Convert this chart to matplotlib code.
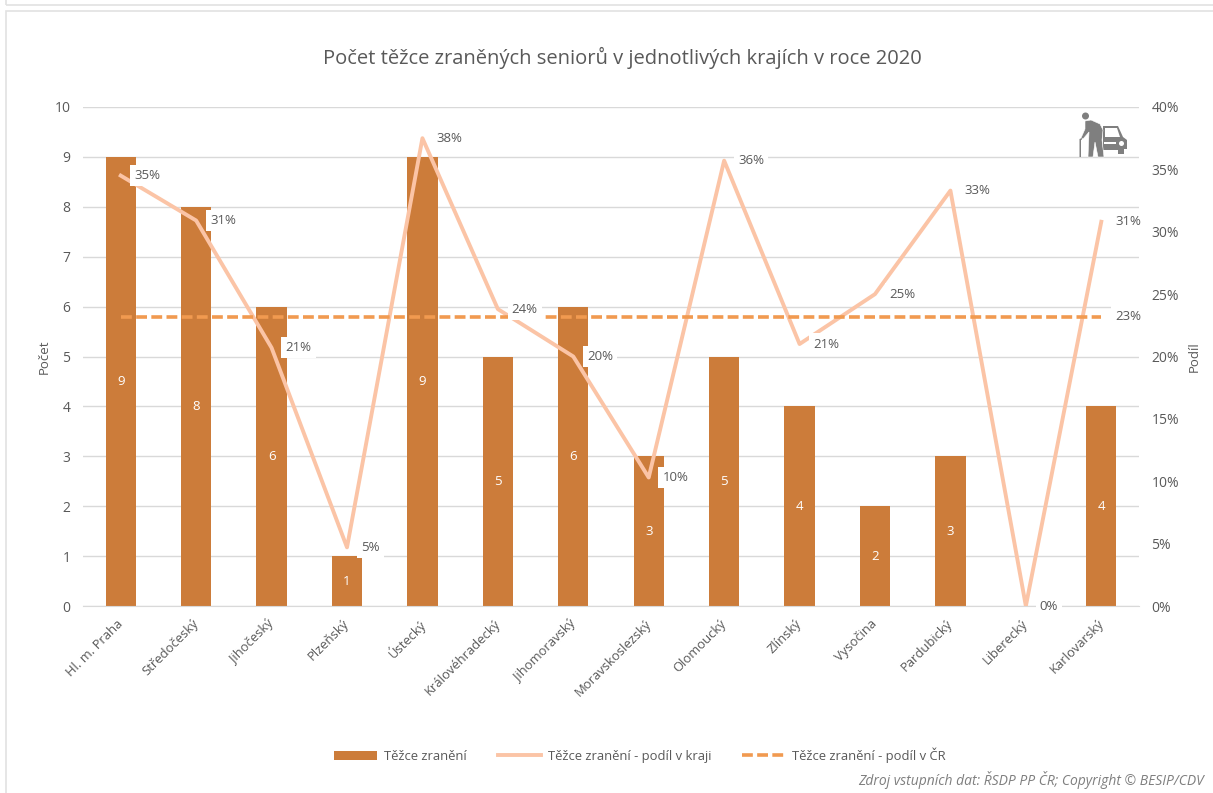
import matplotlib
matplotlib.use("Agg")
import matplotlib.pyplot as plt
from matplotlib.patches import Rectangle, Polygon, Circle
from matplotlib.transforms import ScaledTranslation

plt.rcParams['font.family'] = ['Open Sans', 'DejaVu Sans']

kraje = ['Hl. m. Praha', 'Středočeský', 'Jihočeský', 'Plzeňský', 'Ústecký',
         'Královéhradecký', 'Jihomoravský', 'Moravskoslezský', 'Olomoucký',
         'Zlínský', 'Vysočina', 'Pardubický', 'Liberecký', 'Karlovarský']
pocet = [9, 8, 6, 1, 9, 5, 6, 3, 5, 4, 2, 3, 0, 4]
podil = [34.5, 30.9, 20.7, 4.7, 37.5, 23.8, 20.0, 10.3, 35.7, 21.0, 25.0, 33.3, 0.0, 30.8]
podil_txt = ['35%', '31%', '21%', '5%', '38%', '24%', '20%', '10%', '36%', '21%', '25%', '33%', '0%', '31%']
podil_cr = [23.2] * 14
y_ticks = list(range(0, 11))
y2_ticks = [0, 5, 10, 15, 20, 25, 30, 35, 40]

W, H = 1213, 793
BAR = '#CC7C3A'
LINE = '#FBC4A6'
DASH = '#F19A50'
GRID = '#D9D9D9'
TXT = '#595959'

fig = plt.figure(figsize=(W/100, H/100), dpi=100)

# frames of the screenshot
fig.add_artist(Rectangle((6/W, -0.01), 1.1, 1-11/H+0.01, transform=fig.transFigure,
                         fill=False, ec='#E2E2E2', lw=1.2))
fig.add_artist(Rectangle((6/W, 1-5/H), 1.1, 0.1, transform=fig.transFigure,
                         fill=False, ec='#E2E2E2', lw=1.2))

ax = fig.add_axes([83/W, 1-606/H, (1139-83)/W, (606-107)/H])
x = list(range(len(kraje)))

ax.bar(x, pocet, width=0.4, color=BAR, label='Těžce zranění', zorder=2)
ax.set_xlim(-0.5, 13.5)
ax.set_ylim(0, 10)
ax.set_yticks(y_ticks)
ax.grid(axis='y', color=GRID, lw=1, zorder=0)
ax.set_axisbelow(True)
ax.tick_params(length=0, labelsize=10, labelcolor=TXT, pad=8)
ax.tick_params(axis='y', pad=9)
ax.set_xticks(x)
ax.set_xticklabels(kraje, rotation=45, ha='right', rotation_mode='anchor', fontsize=9.4)
for lbl in ax.get_xticklabels():
    lbl.set_transform(lbl.get_transform() + ScaledTranslation(-3/72, 0, fig.dpi_scale_trans))
ax.set_ylabel('Počet', fontsize=9.5, color=TXT, labelpad=3)
for s in ax.spines.values():
    s.set_visible(False)
ax.spines['bottom'].set_visible(True)
ax.spines['bottom'].set_color(GRID)

for i, v in enumerate(pocet):
    if v > 0:
        ax.text(i, v/2, str(v), color='white', fontsize=9.5, ha='center', va='center', zorder=3)

ax2 = ax.twinx()
ax2.set_xlim(-0.5, 13.5)
ax2.set_ylim(0, 40)
ax2.set_yticks(y2_ticks)
ax2.set_yticklabels([f'{t}%' for t in y2_ticks])
ax2.tick_params(length=0, labelsize=10, labelcolor=TXT, pad=9)
ax2.set_ylabel('Podíl', fontsize=9.5, color=TXT, labelpad=6)
for s in ax2.spines.values():
    s.set_visible(False)

ax2.plot(x, podil, color=LINE, lw=2.8, label='Těžce zranění - podíl v kraji', zorder=3)
ax2.plot(x, podil_cr, color=DASH, lw=2.6, ls=(0, (3, 1.2)),
         label='Těžce zranění - podíl v ČR', zorder=4)

# data labels, white box as in Excel
bbox = dict(fc='white', ec='none', pad=3)
for i, (v, t) in enumerate(zip(podil, podil_txt)):
    ax2.annotate(t, (i, v), xytext=(10, 0), textcoords='offset points', fontsize=9.5,
                 color=TXT, va='center', ha='left', bbox=bbox, zorder=5)
ax2.annotate('23%', (13, podil_cr[13]), xytext=(10, 0), textcoords='offset points', fontsize=9.5,
             color=TXT, va='center', ha='left', bbox=bbox, zorder=5)

fig.text(622.5/W, 1-58/H, 'Počet těžce zraněných seniorů v jednotlivých krajích v roce 2020',
         fontsize=14.5, color=TXT, ha='center', va='center')

h1, l1 = ax.get_legend_handles_labels()
h2, l2 = ax2.get_legend_handles_labels()
fig.legend(h1+h2, l1+l2, loc='center', bbox_to_anchor=(640/W, 1-755/H), ncol=3, frameon=False,
           fontsize=9.4, labelcolor=TXT, columnspacing=2.4, handlelength=3.3, handletextpad=0.5)

fig.text(1204/W, 1-780/H, 'Zdroj vstupních dat: ŘSDP PP ČR; Copyright © BESIP/CDV',
         fontsize=10, color='#7F7F7F', style='italic', ha='right', va='center')

# senior + car icon, overlay in pixel coords of the picture
ic = '#7F7F7F'
ov = fig.add_axes([0, 0, 1, 1], zorder=10)
ov.set_xlim(0, W)
ov.set_ylim(H, 0)
ov.axis('off')
car = [(1103, 126), (1118, 126), (1123, 137), (1127, 140), (1127, 149), (1124, 149), (1124, 154),
       (1118, 154), (1118, 150), (1103, 150)]
ov.add_patch(Polygon(car, closed=True, fc=ic, ec='none'))
ov.add_patch(Polygon([(1105, 128), (1117, 128), (1120, 137), (1105, 137)], closed=True, fc='white', ec='none'))
ov.add_patch(Rectangle((1104, 142), 12, 1.5, fc='white', ec='none'))
ov.add_patch(Circle((1121.5, 143.5), 2.5, fc='white', ec='none'))
man = [(1085, 121), (1091, 120), (1100, 124), (1103, 130), (1102, 140), (1104, 157), (1098, 157),
       (1095, 142), (1093, 157), (1088, 157), (1089, 132), (1083, 139), (1081, 138), (1085, 129)]
ov.add_patch(Polygon(man, closed=True, fc=ic, ec='white', lw=0.4))
ov.add_patch(Circle((1085.5, 116), 3.5, fc=ic, ec='none'))
ov.add_patch(Polygon([(1079.5, 157), (1079.5, 139), (1082, 138), (1082, 139.5), (1081, 140), (1081, 157)],
                     closed=True, fc=ic, ec='none'))

fig.savefig('out.png', dpi=100)
